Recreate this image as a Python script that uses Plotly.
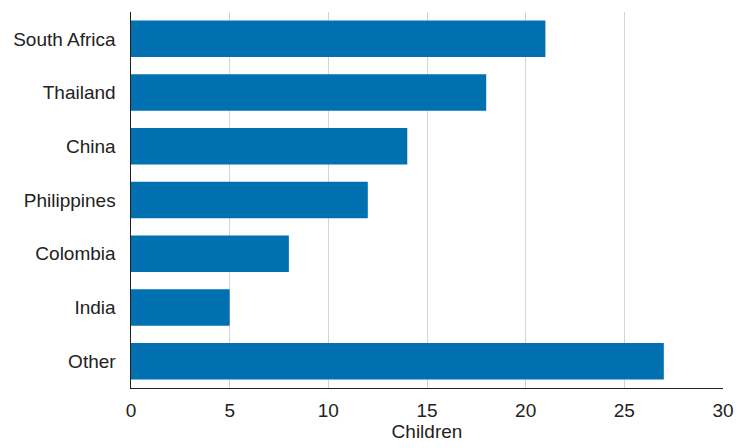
import plotly.graph_objects as go

categories = ["South Africa", "Thailand", "China", "Philippines", "Colombia", "India", "Other"]
values = [21, 18, 14, 12, 8, 5, 27]
x_ticks = [0, 5, 10, 15, 20, 25, 30]

fig = go.Figure(go.Bar(
    x=values, y=categories, orientation="h",
    marker=dict(color="#0070b0", line=dict(width=0)),
))

fig.update_layout(
    width=738, height=448,
    margin=dict(l=131, r=15, t=12, b=60, autoexpand=False),
    paper_bgcolor="white", plot_bgcolor="white",
    font=dict(family="Liberation Sans, Arial, sans-serif", size=19, color="#222"),
    bargap=0.32,
    showlegend=False,
)
fig.update_xaxes(
    range=[0, 30], tickvals=x_ticks, showgrid=True, gridcolor="#d4d4d4", gridwidth=1,
    showline=True, linecolor="#222", linewidth=1, zeroline=False,
    ticks="", ticklabelstandoff=5, automargin=False,
    title=dict(text="Children", standoff=2, font=dict(size=19)),
)
fig.update_yaxes(
    autorange="reversed", showline=True, linecolor="#222", linewidth=1,
    ticks="", ticksuffix="  ", showgrid=False, automargin=False,
)
fig.write_html(
    "out.html",
    config={"displayModeBar": False, "responsive": False},
    post_script="document.body.style.margin='0';",
)
